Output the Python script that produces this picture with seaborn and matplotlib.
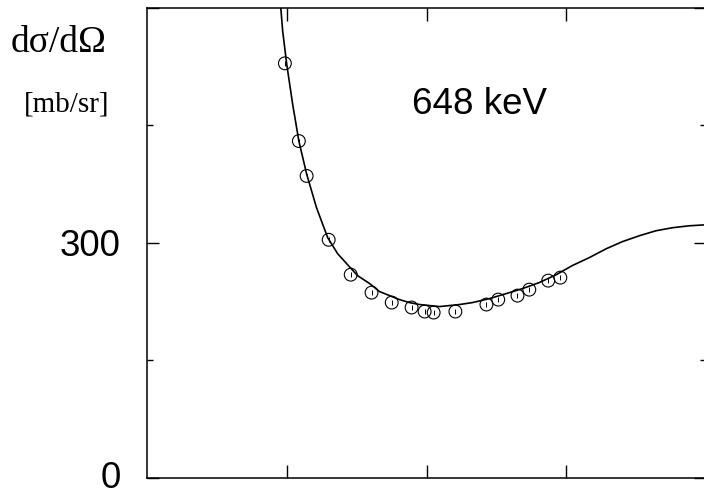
import numpy as np
import pandas as pd
import matplotlib
matplotlib.use("Agg")
import matplotlib.pyplot as plt
import matplotlib.transforms as mtransforms
import seaborn as sns

# ================================
# DATA
# ================================
# measured points: angle [deg], cross section [mb/sr]
angle = [44.4, 48.9, 51.4, 58.5, 65.6, 72.3, 78.8, 85.2, 89.4, 92.3,
         99.3, 109.3, 113.1, 119.3, 123.1, 129.2, 133.1]
xsec = [528.8, 429.7, 385.2, 303.8, 259.3, 236.4, 223.7, 217.4, 212.3, 211.0,
        212.3, 221.2, 227.5, 232.6, 240.2, 251.7, 255.5]
xsec_err = [3, 3, 3, 3, 3, 3, 3, 3, 3, 3, 3, 3, 3, 3, 3, 3, 3]

# fitted curve
fit_angle = [43.1, 43.7, 45.0, 46.9, 48.9, 51.4, 54.6, 58.2, 61.4, 64.3,
             67.8, 71.7, 74.9, 78.1, 81.3, 84.5, 87.8, 91.0, 94.2, 97.4,
             100.6, 104.8, 110.3, 115.7, 120.9, 126.3, 131.8, 136.9, 142.4,
             147.9, 153.0, 158.5, 163.9, 169.1, 174.5, 180.0]
fit_xsec = [598.7, 569.5, 527.5, 476.7, 429.7, 387.7, 344.5, 306.4, 286.0, 273.3,
            258.1, 247.9, 237.7, 232.6, 227.5, 223.7, 221.2, 219.9, 218.6, 219.9,
            221.2, 223.7, 228.8, 235.2, 241.5, 249.2, 259.3, 270.8, 281.0,
            292.4, 301.3, 308.9, 315.3, 319.1, 321.6, 322.9]

energy_label = "648 keV"

pts = pd.DataFrame({"angle": angle, "xsec": xsec, "err": xsec_err})
fit = pd.DataFrame({"angle": fit_angle, "xsec": fit_xsec})

# ================================
# PLOT
# ================================
sns.set_style("ticks")
plt.rcParams["font.family"] = ["Liberation Sans", "DejaVu Sans"]
plt.rcParams["text.color"] = "black"
plt.rcParams["ytick.labelcolor"] = "black"

fig = plt.figure(figsize=(7.04, 4.96), dpi=100)
ax = fig.add_axes([147 / 704, 18 / 496, 559 / 704, 470.5 / 496])

sns.lineplot(data=fit, x="angle", y="xsec", ax=ax, color="black",
             linewidth=1.2, sort=False, estimator=None)
ax.errorbar(pts["angle"], pts["xsec"], yerr=pts["err"], fmt="none",
            ecolor="black", elinewidth=0.7, capsize=0)
sns.scatterplot(data=pts, x="angle", y="xsec", ax=ax, marker="o", s=85,
                facecolor="none", edgecolor="black", linewidth=0.8)

ax.set_xlim(0, 180)
ax.set_ylim(0, 600)
ax.set_xticks([45, 90, 135])
ax.set_xticklabels([])
ax.set_yticks([0, 300, 600])
ax.set_yticklabels(["0", "300", ""])
ax.set_yticks([150, 450], minor=True)
ax.tick_params(axis="both", which="both", direction="in",
               top=True, right=True, color="black")
ax.tick_params(axis="y", which="major", length=8.5, width=1.0,
               labelsize=26.5, pad=19, labelcolor="black")
ax.tick_params(axis="y", which="minor", length=4.3, width=1.0)
ax.tick_params(axis="x", which="major", length=9.4, width=1.0)
for s in ax.spines.values():
    s.set_linewidth(1.1)
    s.set_color("black")
ax.set_xlabel("")
ax.set_ylabel("")

# nudge the "0" label up a little so it stays inside the canvas
shift = mtransforms.ScaledTranslation(0, 3 / 100, fig.dpi_scale_trans)
for lab in ax.get_yticklabels():
    if lab.get_text() == "0":
        lab.set_transform(lab.get_transform() + shift)

fig.text(480 / 704, 1 - 105 / 496, energy_label, ha="center", va="center",
         fontsize=26.5, color="black")
fig.text(59 / 704, 1 - 43 / 496, "dσ/dΩ", ha="center", va="center",
         fontsize=27, color="black", family=["Liberation Serif", "DejaVu Serif"])
fig.text(67 / 704, 1 - 104 / 496, "[mb/sr]", ha="center", va="center",
         fontsize=21, color="black", family=["Liberation Serif", "DejaVu Serif"])

fig.savefig("out.png", dpi=100)
